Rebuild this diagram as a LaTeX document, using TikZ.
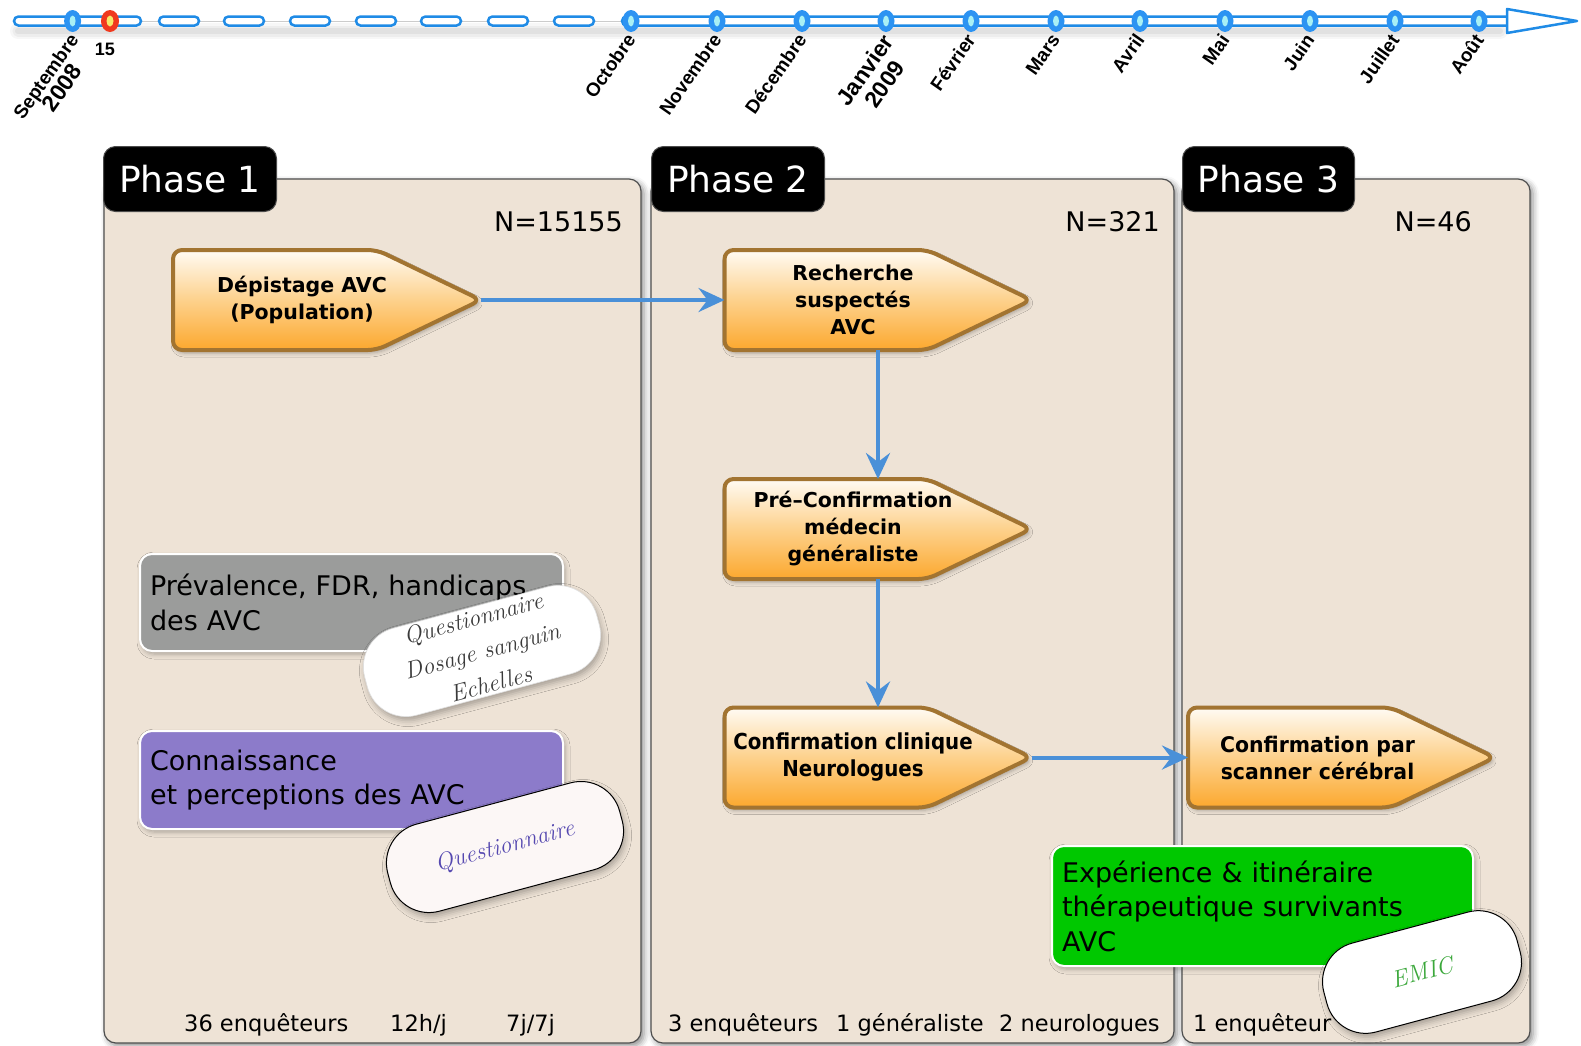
\documentclass[tikz,border=0pt]{standalone}
\usepackage{fontspec}
\usetikzlibrary{shadows.blur,arrows.meta}
\newfontfamily\dv{DejaVu Sans}
\newfontfamily\dvn{DejaVu Sans}[FakeStretch=0.9]
\newfontfamily\dvm{DejaVu Sans}[FakeStretch=0.95]
\newfontfamily\lib{Liberation Sans}
\newcommand\fsz[2]{\fontsize{#1}{#2}\selectfont}

\definecolor{panelfill}{HTML}{EEE3D6}
\definecolor{panelline}{HTML}{4E4E4E}
\definecolor{tlblue}{HTML}{1F8BE6}
\definecolor{tldot}{HTML}{2C93F2}
\definecolor{tlcore}{HTML}{A8F0F5}
\definecolor{tlred}{HTML}{F0391E}
\definecolor{tlyellow}{HTML}{F7E86A}
\definecolor{flowblue}{HTML}{4A90D8}
\definecolor{boxline}{HTML}{A27431}
\definecolor{boxtop}{HTML}{FFFBF4}
\definecolor{boxmid}{HTML}{FDD18C}
\definecolor{boxbot}{HTML}{FCA82E}
\definecolor{grayfill}{HTML}{9B9C9B}
\definecolor{purplefill}{HTML}{8C7BCA}
\definecolor{greenfill}{HTML}{00C800}
\definecolor{inkgray}{HTML}{3A3A3A}
\definecolor{inkpurple}{HTML}{5548B0}
\definecolor{inkgreen}{HTML}{3BA83B}
\definecolor{paperpink}{HTML}{FCF7F6}

\begin{document}
\begin{tikzpicture}[x=1pt, y=-1pt,
  panel/.style={draw=panelline, line width=1.2pt, fill=panelfill, rounded corners=12pt,
    inner sep=0pt, outer sep=0pt, anchor=north west,
    blur shadow={shadow xshift=3pt, shadow yshift=-3pt, shadow blur radius=6pt, shadow opacity=45}},
  tab/.style={draw=black!70, line width=1pt, fill=black, rounded corners=12pt, text=white,
    font=\dv\fsz{36}{40}, inner sep=0pt, anchor=north west,
    minimum width=173pt, minimum height=65pt},
  ntext/.style={font=\dv\fsz{27}{32}, anchor=east, inner sep=0pt},
  foot/.style={font=\dv\fsz{22.5}{27}, anchor=west, inner sep=0pt},
  area/.style={inner sep=0pt, outer sep=0pt, minimum width=#1, minimum height=100pt},
  boxshape/.style={draw=boxline, line width=4pt, rounded corners=9pt, line join=round,
    top color=boxtop, bottom color=boxbot, middle color=boxmid,
    blur shadow={shadow xshift=2pt, shadow yshift=-3pt, shadow blur radius=4pt, shadow opacity=30}},
  boxtext/.style={align=center, inner sep=0pt, font=\dv\bfseries\fsz{20.5}{27}},
  flow/.style={draw=flowblue, line width=4pt, -{Stealth[length=26pt, width=24pt, inset=9pt]}},
  infobox/.style={draw=white, line width=2pt, rounded corners=12pt, inner xsep=10pt, inner ysep=0pt,
    text width=#1, align=left, font=\dv\fsz{27}{34.5}, anchor=north west,
    blur shadow={shadow xshift=2pt, shadow yshift=-3pt, shadow blur radius=5pt, shadow opacity=30}},
  card/.style={rounded corners=40pt, rotate=15, align=center, inner sep=0pt,
    font=\normalfont\itshape\fsz{24}{34},
    blur shadow={shadow xshift=2pt, shadow yshift=-4pt, shadow blur radius=6pt, shadow opacity=30}},
  tlbar/.style={draw=tlblue, line width=2.5pt, fill=white, rounded corners=4.5pt},
  month/.style={font=\lib\bfseries\fsz{19}{21}, rotate=55, anchor=north east, inner sep=0pt, align=center}
]
\useasboundingbox (0,0) rectangle (1581,1045);

% ---------- time line ----------
% soft shadow under the bars
\foreach \w/\o in {16/0.03,11/0.04,6/0.05}
  \draw[black, opacity=\o, line width=\w pt, line cap=round] (18,31) -- (1500,31);
\draw[black!20, line width=1pt] (14,21) -- (1507,21);
\draw[tlbar] (14,16.5) rectangle (141,25.5);
\foreach \a in {159,224,290,356,421,488,554}
  \draw[tlbar] (\a,16.5) rectangle ++(40,9);
\draw[tlbar] (622,16.5) rectangle (1512,25.5);
\draw[tlblue, line width=2.5pt, fill=white, line join=round] (1507,9) -- (1577,21) -- (1507,33) -- cycle;

\foreach \x in {72.6,631,717,802,886,971,1056,1140,1225,1310,1395,1479} {
  \fill[tldot] (\x,21) ellipse [x radius=8.5, y radius=11];
  \fill[tlcore] (\x,21) ellipse [x radius=3, y radius=5.5];
}
\fill[tlred] (110,21) ellipse [x radius=9, y radius=11];
\fill[tlyellow] (110,21) ellipse [x radius=3.5, y radius=5.5];

\node[month] (mSep) at (68,32) {Septembre\\{\fsz{23}{24}2008}};
\node[font=\lib\bfseries\fsz{18}{20}] (d15) at (105,49) {15};
\foreach \x/\m [count=\i] in {631/Octobre,717/Novembre,802/Décembre,971/Février,
    1056/Mars,1140/Avril,1225/Mai,1310/Juin,1395/Juillet,1479/Août}
  \node[month] (m\i) at (\x-6,32) {\m};
\node[month, font=\lib\bfseries\fsz{23}{24}] (mJan) at (881,32) {Janvier\\2009};

% ---------- phase panels ----------
\node[panel, minimum width=537pt, minimum height=864pt] (p1) at (104,179) {};
\node[panel, minimum width=523pt, minimum height=864pt] (p2) at (651,179) {};
\node[panel, minimum width=348pt, minimum height=864pt] (p3) at (1182,179) {};

\node[tab] (t1) at (103,146) {Phase 1};
\node[tab] (t2) at (651,146) {Phase 2};
\node[tab, minimum width=172pt] (t3) at (1182,146) {Phase 3};

\node[ntext] (n1) at (623,222) {N=15155};
\node[ntext] (n2) at (1160,222) {N=321};
\node[ntext] (n3) at (1472,222) {N=46};

% ---------- process steps ----------
\node[area=308pt] (b1) at (327,300) {};
\node[area=307pt] (b2) at (878,300) {};
\node[area=307pt] (b3) at (878,529) {};
\node[area=307pt] (b4) at (878,757.5) {};
\node[area=307pt] (b5) at (1341.5,757.5) {};

\foreach \b in {b1,b2,b3,b4,b5}
  \draw[boxshape] (\b.north west) -- ([xshift=-104pt]\b.north east) -- (\b.east)
    -- ([xshift=-104pt]\b.south east) -- (\b.south west) -- cycle;

\node[boxtext] (b1t) at ([xshift=-25pt]b1.center) {Dépistage AVC\\(Population)};
\node[boxtext] (b2t) at ([xshift=-25pt]b2.center) {Recherche\\suspectés\\AVC};
\node[boxtext] (b3t) at ([xshift=-25pt]b3.center) {Pré–Confirmation\\médecin\\généraliste};
\node[boxtext, font=\dvn\bfseries\fsz{22}{27}] (b4t) at ([xshift=-25pt]b4.center) {Confirmation clinique\\Neurologues};
\node[boxtext, font=\dvm\bfseries\fsz{21.5}{27}] (b5t) at ([xshift=-24pt]b5.center) {Confirmation par\\scanner cérébral};

\draw[flow] (b1.east) -- (b2.west);
\draw[flow] (b2.south) -- (b3.north);
\draw[flow] (b3.south) -- (b4.north);
\draw[flow] (b4.east) -- (b5.west);

% ---------- staffing ----------
\node[foot] (f1) at (184,1025) {36 enquêteurs};
\node[foot] (f2) at (390,1025) {12h/j};
\node[foot] (f3) at (506,1025) {7j/7j};
\node[foot] (f4) at (668,1025) {3 enquêteurs};
\node[foot] (f5) at (836,1025) {1 généraliste};
\node[foot] (f6) at (999,1025) {2 neurologues};
\node[foot] (f7) at (1193,1025) {1 enquêteur};

% ---------- study components ----------
\node[infobox=403pt, fill=grayfill, minimum height=97pt] (s1) at (139,553)
  {Prévalence, FDR, handicaps\\des AVC};
\node[card, fill=white, draw=black!12, line width=0.6pt, text=inkgray,
  minimum width=240pt, minimum height=90pt] (c1) at (482,651)
  {Questionnaire\\Dosage sanguin\\Echelles};

\node[infobox=403pt, fill=purplefill, minimum height=98pt] (s2) at (139,730)
  {Connaissance\\et perceptions des AVC};
\node[card, fill=paperpink, draw=black, line width=1pt, text=inkpurple,
  minimum width=240pt, minimum height=90pt] (c2) at (505,847) {Questionnaire};

\node[infobox=401pt, fill=greenfill, minimum height=120pt] (s3) at (1051,845)
  {Expérience \& itinéraire\\thérapeutique survivants\\AVC};
\node[card, fill=white, draw=black, line width=1pt, text=inkgreen,
  minimum width=200pt, minimum height=92pt] (c3) at (1422,972) {EMIC};

\end{tikzpicture}
\end{document}
